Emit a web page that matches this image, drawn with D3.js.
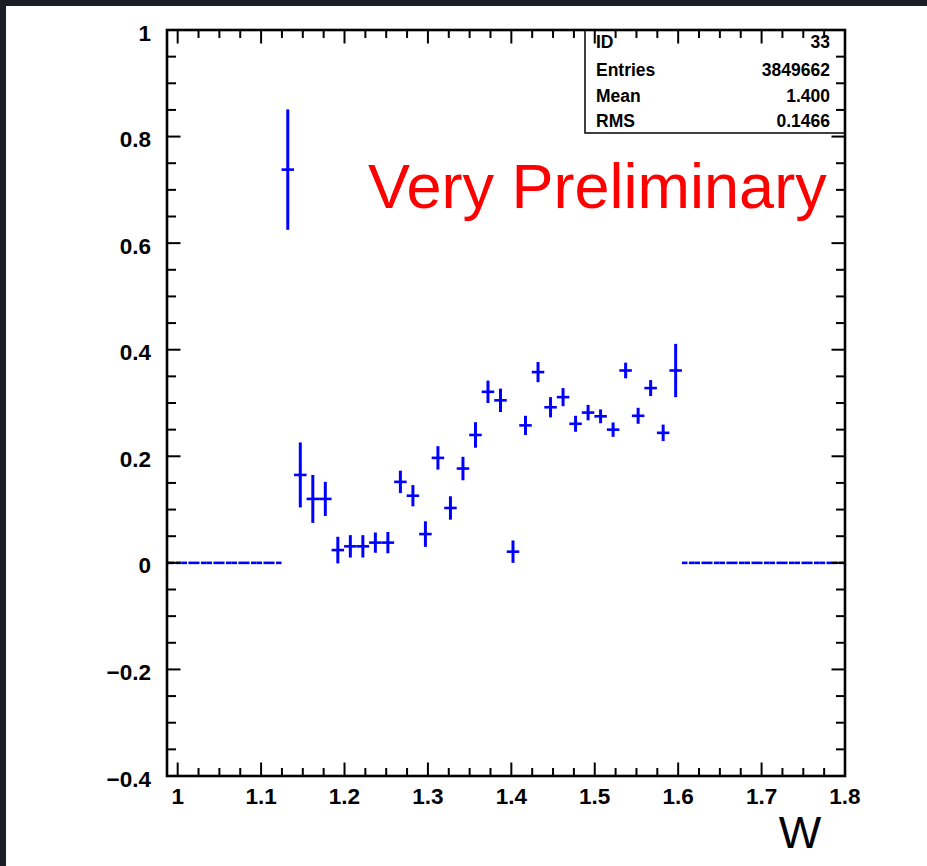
<!DOCTYPE html>
<html>
<head>
<meta charset="utf-8">
<script src="https://cdn.jsdelivr.net/npm/d3@7"></script>
<style>
  body { margin: 0; background: #1b1e24; }
  svg { display: block; }
</style>
</head>
<body>
<script>
// filled bins: centre of bin in W, value, error
var binCenters = [ 1.132, 1.147, 1.162, 1.177, 1.192, 1.207, 1.222, 1.237, 1.252, 1.267,
                   1.282, 1.297, 1.312, 1.327, 1.342, 1.357, 1.372, 1.387, 1.402, 1.417,
                   1.432, 1.447, 1.462, 1.477, 1.492, 1.507, 1.522, 1.537, 1.552, 1.567,
                   1.582, 1.597 ];
var binValues = [ 0.738, 0.165, 0.120, 0.120, 0.024, 0.031, 0.031, 0.038, 0.038, 0.152,
                  0.126, 0.054, 0.197, 0.103, 0.177, 0.240, 0.321, 0.305, 0.021, 0.258,
                  0.358, 0.292, 0.311, 0.261, 0.282, 0.275, 0.250, 0.361, 0.276, 0.328,
                  0.244, 0.361 ];
var binErrors = [ 0.113, 0.061, 0.045, 0.032, 0.025, 0.021, 0.021, 0.019, 0.020, 0.021,
                  0.020, 0.024, 0.022, 0.022, 0.022, 0.024, 0.021, 0.022, 0.021, 0.018,
                  0.019, 0.019, 0.017, 0.015, 0.0145, 0.013, 0.0135, 0.0147, 0.015, 0.015,
                  0.0155, 0.050 ];
// empty bins (drawn at zero)
var emptyCenters = [ 0.982, 0.997, 1.012, 1.027, 1.042, 1.057, 1.072, 1.087, 1.102, 1.117,
                     1.612, 1.627, 1.642, 1.657, 1.672, 1.687, 1.702, 1.717, 1.732, 1.747,
                     1.762, 1.777, 1.792 ];
var binWidth = 0.015;

var xTicks = [ 1, 1.1, 1.2, 1.3, 1.4, 1.5, 1.6, 1.7, 1.8 ];
var xTickLabels = [ "1", "1.1", "1.2", "1.3", "1.4", "1.5", "1.6", "1.7", "1.8" ];
var yTicks = [ 1, 0.8, 0.6, 0.4, 0.2, 0, -0.2, -0.4 ];
var yTickLabels = [ "1", "0.8", "0.6", "0.4", "0.2", "0", "\u22120.2", "\u22120.4" ];

var statNames = [ "ID", "Entries", "Mean", "RMS" ];
var statValues = [ "33", "3849662", "1.400", "0.1466" ];

var W = 927, H = 866;
// frame edges (window.top is taken, so prefix them)
var fLeft = 167, fRight = 845, fTop = 30, fBottom = 776;

var svg = d3.select( "body" )
            .append( "svg" )
              .attr( "width", W )
              .attr( "height", H );

// white page on the dark photo background
svg.append( "rect" )
  .attr( "x", 6 ).attr( "y", 6 )
  .attr( "width", W - 6 ).attr( "height", H - 6 )
  .attr( "fill", "#fff" );

var x = d3.scaleLinear().domain( [ 0.9872, 1.8 ] ).range( [ fLeft, fRight ] );
var y = d3.scaleLinear().domain( [ -0.4, 1 ] ).range( [ fBottom, fTop ] );

svg.append( "clipPath" ).attr( "id", "frame" )
  .append( "rect" )
    .attr( "x", fLeft ).attr( "y", fTop )
    .attr( "width", fRight - fLeft ).attr( "height", fBottom - fTop );

var plot = svg.append( "g" ).attr( "clip-path", "url(#frame)" );

// empty bins: flat line at zero, split in the middle like ROOT does
var half = ( x( binWidth ) - x( 0 ) ) / 2;
emptyCenters.forEach( function( c ){
  plot.append( "line" )
    .attr( "x1", x( c ) - half ).attr( "x2", x( c ) - 0.7 )
    .attr( "y1", y( 0 ) ).attr( "y2", y( 0 ) )
    .attr( "stroke", "#0000ff" ).attr( "stroke-width", 2.6 );
  plot.append( "line" )
    .attr( "x1", x( c ) + 0.7 ).attr( "x2", x( c ) + half )
    .attr( "y1", y( 0 ) ).attr( "y2", y( 0 ) )
    .attr( "stroke", "#0000ff" ).attr( "stroke-width", 2.6 );
});

// error crosses
var bins = plot.selectAll( "g.bin" )
  .data( binCenters )
  .enter()
  .append( "g" ).attr( "class", "bin" );

bins.append( "line" )
  .attr( "x1", function( d ){ return x( d ) - half; } )
  .attr( "x2", function( d ){ return x( d ) + half; } )
  .attr( "y1", function( d, i ){ return y( binValues[i] ); } )
  .attr( "y2", function( d, i ){ return y( binValues[i] ); } )
  .attr( "stroke", "#0000ff" ).attr( "stroke-width", 2.6 );

bins.append( "line" )
  .attr( "x1", function( d ){ return x( d ); } )
  .attr( "x2", function( d ){ return x( d ); } )
  .attr( "y1", function( d, i ){ return y( binValues[i] + binErrors[i] ); } )
  .attr( "y2", function( d, i ){ return y( binValues[i] - binErrors[i] ); } )
  .attr( "stroke", "#0000ff" ).attr( "stroke-width", 3 );

// stats box
svg.append( "rect" )
  .attr( "x", 585 ).attr( "y", fTop )
  .attr( "width", fRight - 585 ).attr( "height", 133 - fTop )
  .attr( "fill", "#fff" ).attr( "stroke", "#000" ).attr( "stroke-width", 1.5 );

var statY = [ 48, 75.5, 101.5, 126.5 ];
statNames.forEach( function( s, i ){
  svg.append( "text" )
    .attr( "x", 596 ).attr( "y", statY[i] )
    .attr( "font-family", "Liberation Sans, Arial, sans-serif" )
    .attr( "font-weight", "bold" ).attr( "font-size", 17.5 )
    .text( s );
  svg.append( "text" )
    .attr( "x", 830 ).attr( "y", statY[i] )
    .attr( "text-anchor", "end" )
    .attr( "font-family", "Liberation Sans, Arial, sans-serif" )
    .attr( "font-weight", "bold" ).attr( "font-size", 17.5 )
    .text( statValues[i] );
});

// ticks on all four sides, pointing inwards
var xMinor = d3.range( 1, 1.8001, 0.025 );
var yMinor = d3.range( -0.4, 1.0001, 0.05 );
var ticks = svg.append( "g" ).attr( "stroke", "#000" ).attr( "stroke-width", 2 );

xMinor.forEach( function( v, i ){
  var len = ( i % 4 === 0 ) ? 13.5 : 8;
  ticks.append( "line" ).attr( "x1", x( v ) ).attr( "x2", x( v ) )
    .attr( "y1", fBottom ).attr( "y2", fBottom - len );
  ticks.append( "line" ).attr( "x1", x( v ) ).attr( "x2", x( v ) )
    .attr( "y1", fTop ).attr( "y2", fTop + len );
});
yMinor.forEach( function( v, i ){
  var len = ( i % 4 === 0 ) ? 13.5 : 9;
  ticks.append( "line" ).attr( "y1", y( v ) ).attr( "y2", y( v ) )
    .attr( "x1", fLeft ).attr( "x2", fLeft + len );
  ticks.append( "line" ).attr( "y1", y( v ) ).attr( "y2", y( v ) )
    .attr( "x1", fRight ).attr( "x2", fRight - len );
});

// frame
svg.append( "rect" )
  .attr( "x", fLeft ).attr( "y", fTop )
  .attr( "width", fRight - fLeft ).attr( "height", fBottom - fTop )
  .attr( "fill", "none" ).attr( "stroke", "#000" ).attr( "stroke-width", 2.6 );

// tick labels
svg.selectAll( "text.xl" )
  .data( xTicks )
  .enter()
  .append( "text" ).attr( "class", "xl" )
    .attr( "x", function( d ){ return x( d ); } )
    .attr( "y", 804 )
    .attr( "text-anchor", "middle" )
    .attr( "font-family", "Liberation Sans, Arial, sans-serif" )
    .attr( "font-weight", "bold" ).attr( "font-size", 22.5 )
    .text( function( d, i ){ return xTickLabels[i]; } );

svg.selectAll( "text.yl" )
  .data( yTicks )
  .enter()
  .append( "text" ).attr( "class", "yl" )
    .attr( "x", 151 )
    .attr( "y", function( d ){ return y( d ) + 10.5; } )
    .attr( "text-anchor", "end" )
    .attr( "font-family", "Liberation Sans, Arial, sans-serif" )
    .attr( "font-weight", "bold" ).attr( "font-size", 22.5 )
    .text( function( d, i ){ return yTickLabels[i]; } );

// axis title
svg.append( "text" )
  .attr( "x", 800 ).attr( "y", 848 )
  .attr( "text-anchor", "middle" )
  .attr( "font-family", "Liberation Sans, Arial, sans-serif" )
  .attr( "font-size", 45 )
  .text( "W" );

svg.append( "text" )
  .attr( "x", 368 ).attr( "y", 208 )
  .attr( "font-family", "Liberation Sans, Arial, sans-serif" )
  .attr( "font-size", 63 )
  .attr( "fill", "#ff0000" )
  .text( "Very Preliminary" );
</script>
</body>
</html>
